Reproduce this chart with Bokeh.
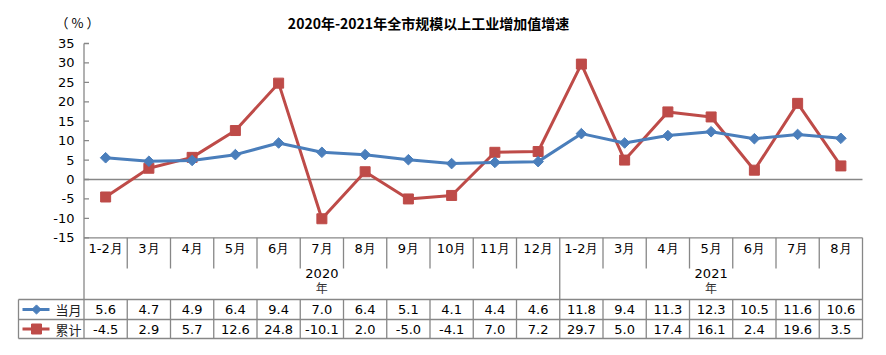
import math
from bokeh.plotting import figure
from bokeh.models import Range1d
from bokeh.core.properties import value
from bokeh.embed import file_html
from bokeh.resources import INLINE

# ---------------- data ----------------
months = ["1-2月", "3月", "4月", "5月", "6月", "7月", "8月", "9月", "10月", "11月", "12月",
          "1-2月", "3月", "4月", "5月", "6月", "7月", "8月"]
years = ["2020", "2021"]
year_sizes = [11, 7]
monthly = [5.6, 4.7, 4.9, 6.4, 9.4, 7.0, 6.4, 5.1, 4.1, 4.4, 4.6,
           11.8, 9.4, 11.3, 12.3, 10.5, 11.6, 10.6]
cumul = [-4.5, 2.9, 5.7, 12.6, 24.8, -10.1, 2.0, -5.0, -4.1, 7.0, 7.2,
         29.7, 5.0, 17.4, 16.1, 2.4, 19.6, 3.5]
series_names = ["当月", "累计"]
y_ticks = [-15, -10, -5, 0, 5, 10, 15, 20, 25, 30, 35]
title = "2020年-2021年全市规模以上工业增加值增速"
unit = "（%）"

# ---------------- layout constants (pixels) ----------------
W, H = 886, 355
PLOT_L, PLOT_R = 83.5, 862
PLOT_T = 43
Y_MAX, Y_MIN = 35, -15
PLOT_B = 237.3
TABLE_L = 18
ROW_MONTH_B = 268
ROW_YEAR_B = 299
ROW1_B = 319
ROW2_B = 338
N = len(months)
PPC = (PLOT_R - PLOT_L) / N
PPU = (PLOT_B - PLOT_T) / (Y_MAX - Y_MIN)
ZERO_PX = PLOT_T + Y_MAX * PPU

def X(px):
    return (px - PLOT_L) / PPC

def Y(py):
    return (ZERO_PX - py) / PPU

BLUE = "#4A7EBB"
RED = "#BE4B48"
GRAY = "#878787"
FONT = value("DejaVu Sans")

p = figure(width=W, height=H, output_backend="svg", toolbar_location=None,
           x_range=Range1d(X(0), X(W)), y_range=Range1d(Y(H), Y(0)),
           x_axis_type=None, y_axis_type=None, min_border=0,
           outline_line_color=None, background_fill_color="white",
           border_fill_color="white")
p.grid.visible = False

# ---------------- axes / table lines ----------------
x0s, y0s, x1s, y1s = [], [], [], []
def seg(a, b, c, d):
    x0s.append(a); y0s.append(b); x1s.append(c); y1s.append(d)

seg(0, Y_MAX, 0, Y(ROW2_B))
for t in y_ticks:
    seg(0, t, X(PLOT_L + 5), t)
seg(0, 0, N, 0)
seg(0, Y_MIN, N, Y_MIN)
bounds = []
acc = 0
for s in year_sizes:
    acc += s
    bounds.append(acc)
for i in range(1, N + 1):
    if i in bounds:
        seg(i, Y_MIN, i, Y(ROW2_B))
    else:
        seg(i, Y_MIN, i, Y(ROW_MONTH_B))
        seg(i, Y(ROW_YEAR_B), i, Y(ROW2_B))
for yb in (ROW_YEAR_B, ROW1_B, ROW2_B):
    seg(X(TABLE_L), Y(yb), N, Y(yb))
seg(X(TABLE_L), Y(ROW_YEAR_B), X(TABLE_L), Y(ROW2_B))
p.segment(x0s, y0s, x1s, y1s, line_color=GRAY, line_width=1.3)

# ---------------- series ----------------
xs = [i + 0.5 for i in range(N)]
p.line(xs, cumul, line_color=RED, line_width=3)
p.scatter(xs, cumul, marker="square", size=10, fill_color=RED, line_color=RED)
p.line(xs, monthly, line_color=BLUE, line_width=3)
p.scatter(xs, monthly, marker="square", angle=math.pi / 4, size=7.5,
          fill_color=BLUE, line_color=BLUE)

# ---------------- texts ----------------
p.text(x=[X(74)] * len(y_ticks), y=y_ticks, text=[str(t) for t in y_ticks],
       text_align="right", text_baseline="middle", text_font=FONT,
       text_font_size=value("13px"), text_color="black")

p.text(x=xs, y=[Y(248)] * N, text=months, text_align="center",
       text_baseline="middle", text_font=FONT, text_font_size=value("13px"),
       text_color="black")

start = 0
yc = []
for s in year_sizes:
    yc.append(start + s / 2)
    start += s
p.text(x=yc, y=[Y(273)] * len(years), text=years, text_align="center",
       text_baseline="middle", text_font=FONT, text_font_size=value("13px"),
       text_color="black")
p.text(x=yc, y=[Y(287)] * len(years), text=["年"] * len(years), text_align="center",
       text_baseline="middle", text_font=value("Noto Sans CJK SC"),
       text_font_size=value("12px"), text_color="#333333")

row_y = [Y((ROW_YEAR_B + ROW1_B) / 2), Y((ROW1_B + ROW2_B) / 2)]
for vals, ry in zip((monthly, cumul), row_y):
    p.text(x=xs, y=[ry] * N, text=[f"{v:.1f}" for v in vals], text_align="center",
           text_baseline="middle", text_font=FONT, text_font_size=value("13px"),
           text_color="black")

for name, ry, col, sz, ang in zip(series_names, row_y, (BLUE, RED),
                                  (6.5, 10), (math.pi / 4, 0)):
    p.line([X(22), X(49)], [ry, ry], line_color=col, line_width=3)
    p.scatter([X(36)], [ry], marker="square", size=sz, angle=ang, fill_color=col, line_color=col)
    p.text(x=[X(55)], y=[ry], text=[name], text_align="left", text_baseline="middle",
           text_font=value("Noto Sans CJK SC"), text_font_size=value("13px"),
           text_color="#222222")

p.text(x=[X(428)], y=[Y(22)], text=[title], text_align="center",
       text_baseline="middle", text_font=value("Noto Sans CJK SC"),
       text_font_size=value("14px"), text_font_style="bold", text_color="black")
p.text(x=[X(77)], y=[Y(22)], text=["（ % ）"], text_align="center",
       text_baseline="middle", text_font=value("Noto Sans CJK SC"),
       text_font_size=value("13px"), text_color="black")

open("out.html", "w").write(file_html(p, INLINE))
